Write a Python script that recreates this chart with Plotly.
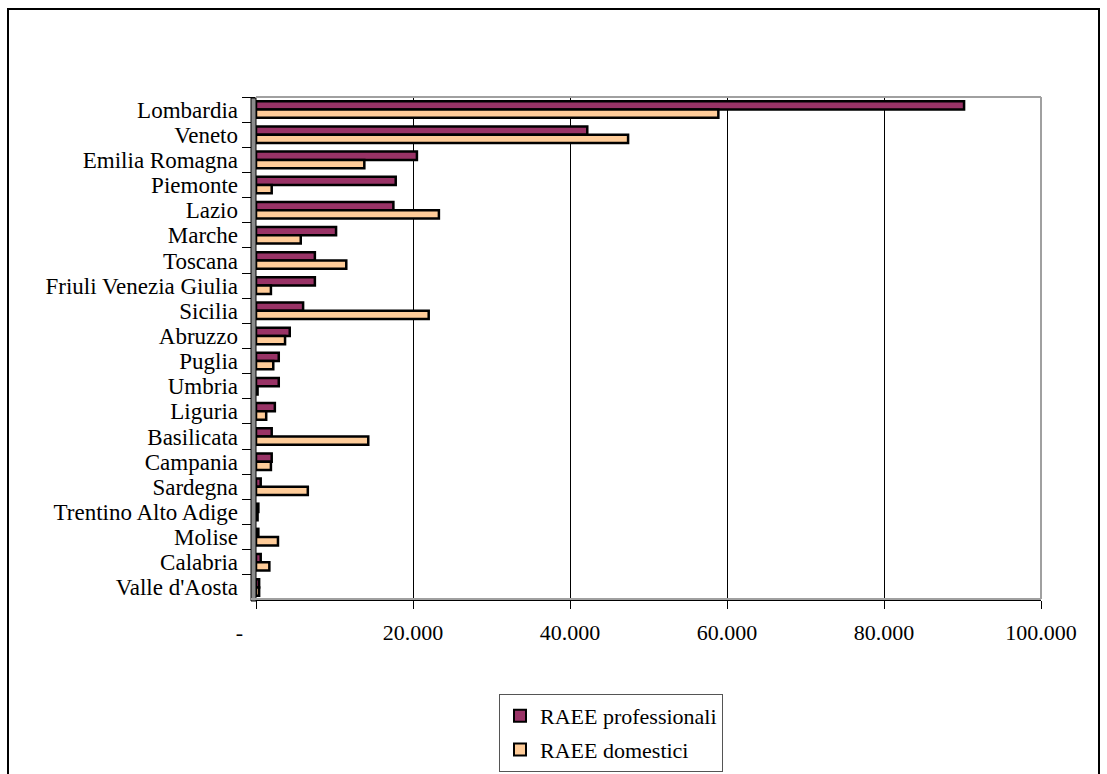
import plotly.graph_objects as go

# Regions, ordered from largest to smallest professional quantity
regioni = [
    "Lombardia", "Veneto", "Emilia Romagna", "Piemonte", "Lazio", "Marche",
    "Toscana", "Friuli Venezia Giulia", "Sicilia", "Abruzzo", "Puglia",
    "Umbria", "Liguria", "Basilicata", "Campania", "Sardegna",
    "Trentino Alto Adige", "Molise", "Calabria", "Valle d'Aosta",
]

raee_professionali = [
    90200, 42200, 20500, 17800, 17500, 10200, 7500, 7500, 6000, 4300,
    2900, 2900, 2400, 2000, 2000, 600, 300, 300, 600, 400,
]

raee_domestici = [
    58900, 47400, 13800, 2000, 23300, 5700, 11500, 1900, 22000, 3700,
    2200, 200, 1300, 14300, 1900, 6600, 200, 2800, 1700, 400,
]

tick_values = [0, 20000, 40000, 60000, 80000, 100000]
tick_labels = ["-\u00a0\u00a0\u00a0\u00a0\u00a0\u00a0", "20.000", "40.000",
               "60.000", "80.000", "100.000"]

SERIF = "Liberation Serif, Times New Roman, serif"
PROF_COLOR = "#993366"
DOM_COLOR = "#FFCC99"

# plot area in pixels
W, H = 1107, 774
L, R, T, B = 256, 1041, 97, 600


def px_x(x):
    return (x - L) / (R - L)


def px_y(y):
    return (B - y) / (B - T)


fig = go.Figure()
fig.add_trace(go.Bar(
    y=regioni, x=raee_professionali, orientation="h",
    name="RAEE professionali", legendgroup="prof",
    marker=dict(color=PROF_COLOR, line=dict(color="black", width=2.5)),
))
fig.add_trace(go.Bar(
    y=regioni, x=raee_domestici, orientation="h",
    name="RAEE domestici", legendgroup="dom",
    marker=dict(color=DOM_COLOR, line=dict(color="black", width=2.5)),
))

shapes = [
    # left wall
    dict(type="rect", xref="paper", yref="paper",
         x0=px_x(251), x1=px_x(256), y0=px_y(601), y1=px_y(T + 1),
         fillcolor="#8c8c8c", line=dict(color="black", width=1), layer="above"),
    # plot area frame (top / right)
    dict(type="line", xref="paper", yref="paper",
         x0=0, x1=1, y0=1, y1=1, line=dict(color="#a0a0a0", width=2), layer="above"),
    dict(type="line", xref="paper", yref="paper",
         x0=1, x1=1, y0=px_y(599), y1=1, line=dict(color="#a0a0a0", width=2), layer="above"),
    # floor
    dict(type="line", xref="paper", yref="paper",
         x0=px_x(251), x1=1, y0=px_y(599), y1=px_y(599),
         line=dict(color="#a0a0a0", width=2), layer="above"),
    # chart border
    dict(type="rect", xref="paper", yref="paper",
         x0=px_x(8), x1=px_x(1099), y0=px_y(790), y1=px_y(9),
         line=dict(color="black", width=2), fillcolor="rgba(0,0,0,0)", layer="above"),
]

fig.update_layout(
    width=W, height=H,
    margin=dict(l=L, r=W - R, t=T, b=H - B, pad=0, autoexpand=False),
    paper_bgcolor="white", plot_bgcolor="white",
    barmode="group", bargap=0.34, bargroupgap=0.0,
    font=dict(family=SERIF, size=22, color="black"),
    showlegend=True,
    legend=dict(
        x=px_x(499), y=px_y(694), xanchor="left", yanchor="top",
        orientation="v", traceorder="grouped", tracegroupgap=2,
        bordercolor="#555555", borderwidth=1, bgcolor="white",
        font=dict(family=SERIF, size=22, color="black"),
        itemsizing="constant", itemwidth=30,
    ),
    shapes=shapes,
)

fig.update_xaxes(
    range=[0, 100000], tickvals=tick_values, ticktext=tick_labels,
    showgrid=True, gridcolor="black", gridwidth=1, zeroline=False,
    showline=True, linecolor="black", linewidth=1,
    ticks="outside", ticklen=8, tickcolor="black",
    ticklabelstandoff=5,
    tickfont=dict(family=SERIF, size=22, color="black"),
    fixedrange=True,
)

fig.update_yaxes(
    autorange="reversed", type="category",
    tickmode="linear", dtick=1,
    showgrid=False, zeroline=False, showline=False,
    ticks="outside", tickson="boundaries", ticklen=13, tickcolor="black",
    ticklabelstandoff=17,
    tickfont=dict(family=SERIF, size=23, color="black"),
    fixedrange=True,
)

fig.write_html("out.html")
